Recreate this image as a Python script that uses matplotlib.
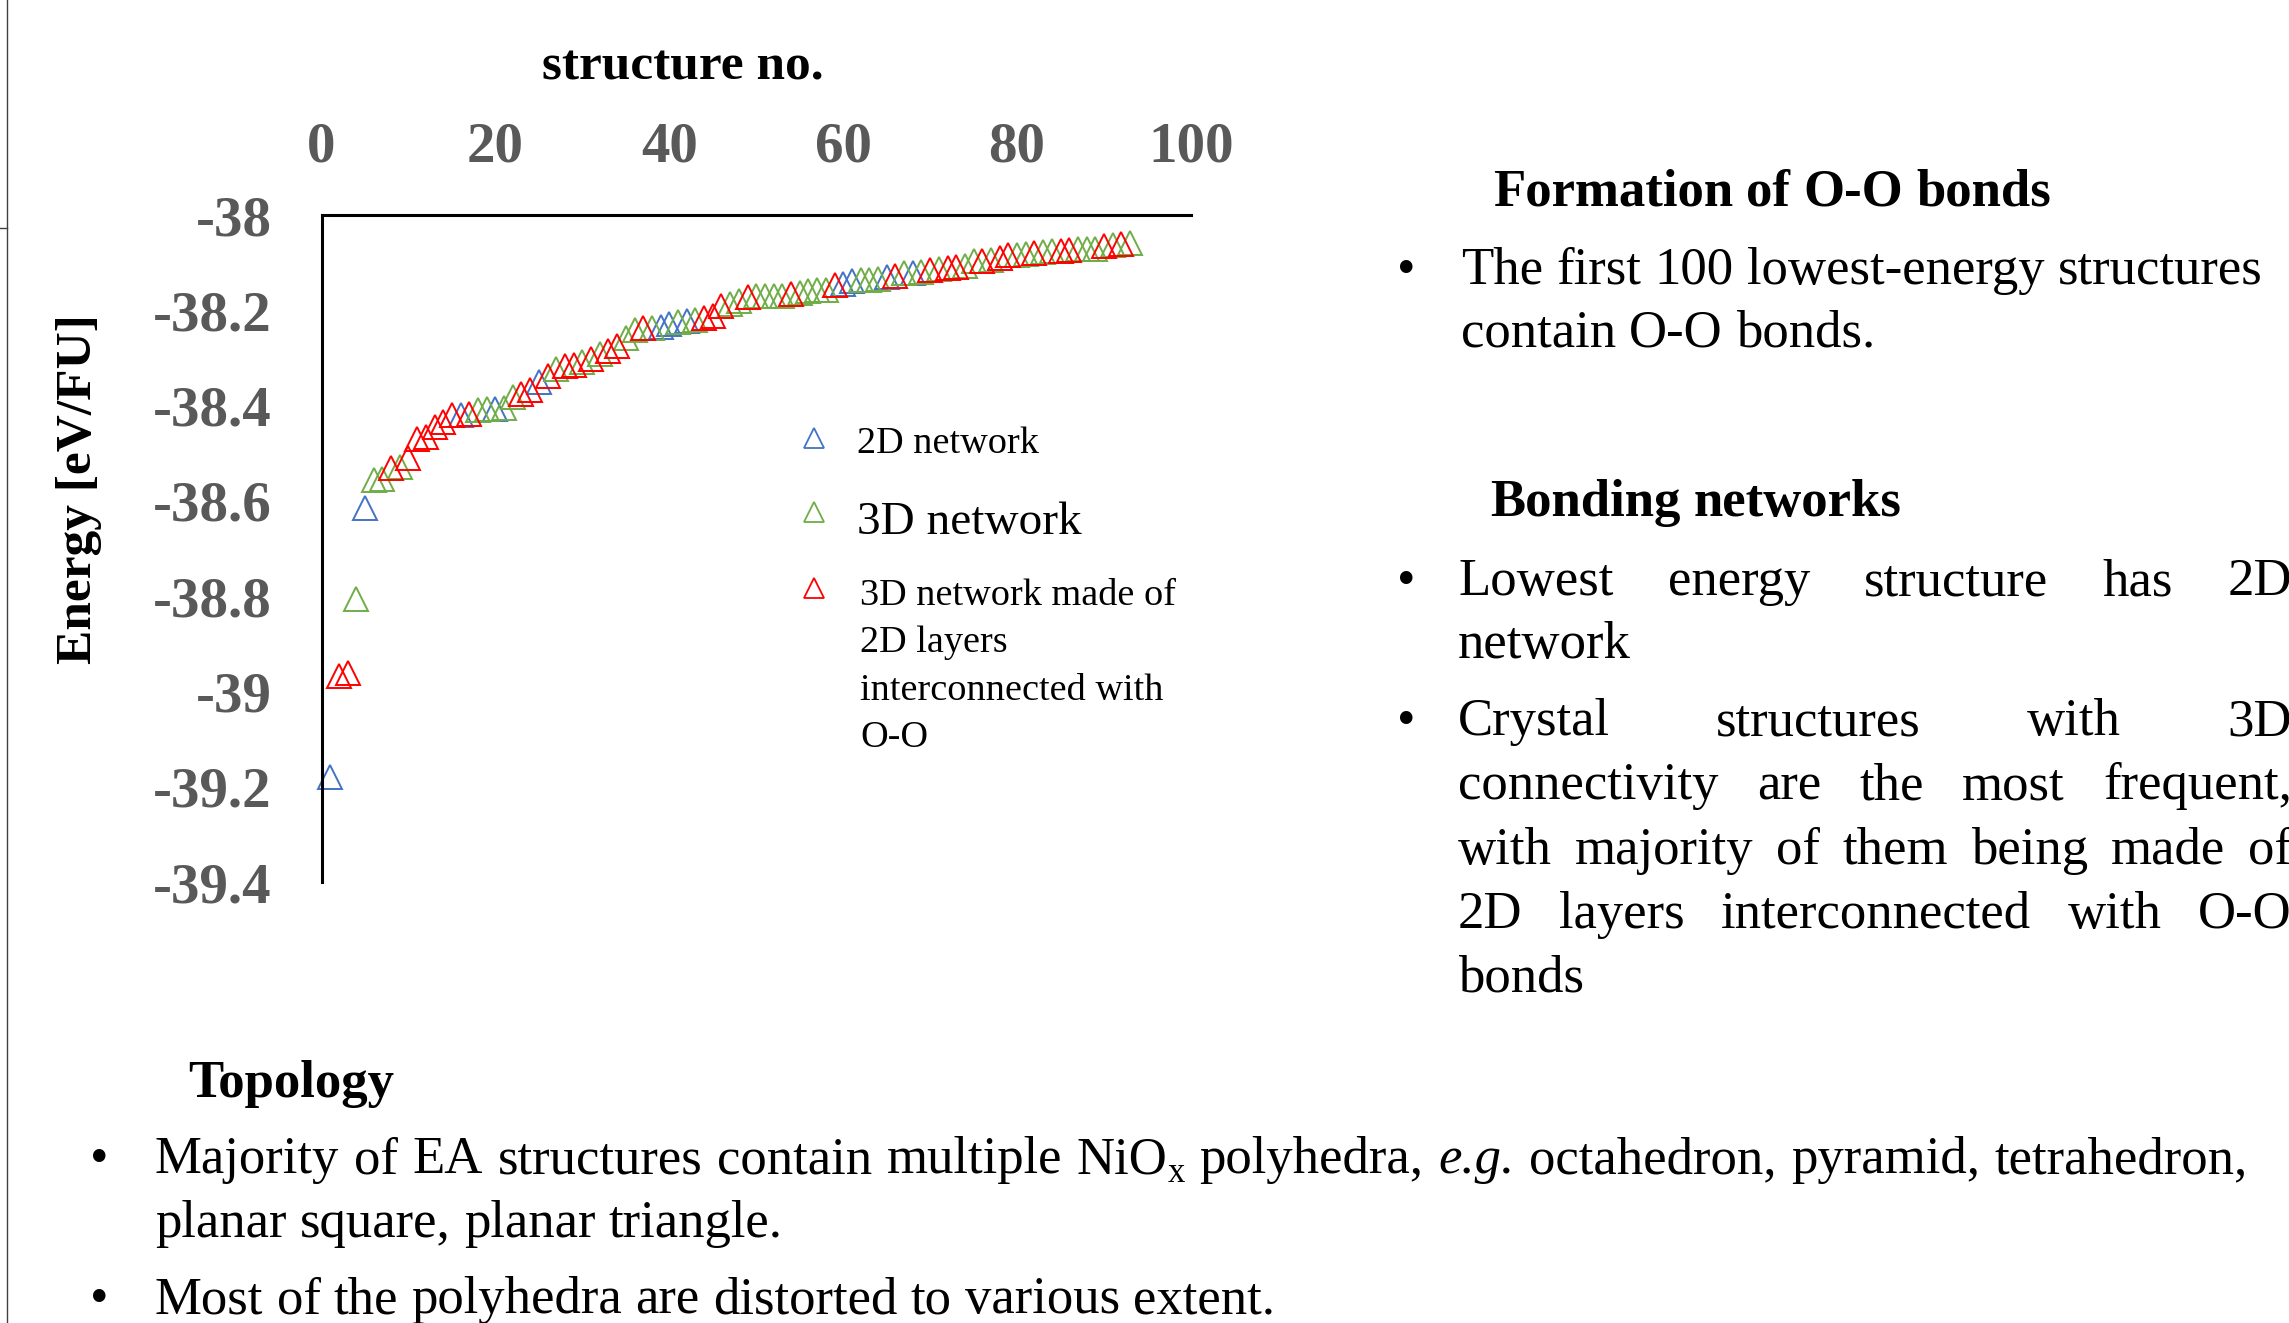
import matplotlib
matplotlib.use('Agg')
import matplotlib.pyplot as plt
from matplotlib.lines import Line2D
from matplotlib.ticker import FuncFormatter, MultipleLocator

# structure number and energy [eV/FU] per network type
net2d_no = [1, 5, 16, 20, 25, 39, 40, 42, 60, 61, 65, 68]
net2d_e = [-39.179, -38.615, -38.420, -38.407, -38.351, -38.236, -38.229, -38.222,
           -38.144, -38.138, -38.130, -38.121]

net3d_no = [4, 6, 7, 9, 18, 19, 21, 22, 27, 30, 32, 35, 36, 38, 41, 43, 47, 48, 50, 51,
            52, 53, 55, 56, 57, 58, 62, 63, 64, 67, 69, 71, 74, 75, 77, 80, 81, 83, 84,
            87, 88, 89, 91, 93]
net3d_e = [-38.805, -38.557, -38.554, -38.529, -38.410, -38.408, -38.405, -38.381,
           -38.324, -38.308, -38.292, -38.259, -38.241, -38.237, -38.225, -38.220,
           -38.187, -38.180, -38.171, -38.171, -38.170, -38.169, -38.163, -38.159,
           -38.158, -38.157, -38.137, -38.136, -38.134, -38.122, -38.120, -38.113,
           -38.108, -38.097, -38.095, -38.083, -38.081, -38.078, -38.076, -38.072,
           -38.072, -38.071, -38.064, -38.059]

layered_no = [2, 3, 8, 10, 11, 12, 13, 14, 15, 17, 23, 24, 26, 28, 29, 31, 33, 34, 37,
              44, 45, 46, 49, 54, 59, 66, 70, 72, 73, 76, 78, 79, 82, 85, 86, 90, 92]
layered_e = [-38.968, -38.961, -38.531, -38.509, -38.470, -38.465, -38.446, -38.435,
             -38.420, -38.417, -38.376, -38.367, -38.337, -38.316, -38.315, -38.302,
             -38.285, -38.274, -38.238, -38.217, -38.213, -38.190, -38.173, -38.165,
             -38.146, -38.129, -38.116, -38.111, -38.109, -38.096, -38.090, -38.084,
             -38.079, -38.075, -38.073, -38.065, -38.061]

series_labels = [['2D network'], ['3D network'],
                 ['3D network made of', '2D layers', 'interconnected with', 'O-O']]
series_colors = ['#4472C4', '#70AD47', '#FF0000']

W, H = 2289, 1323
plt.rcParams['font.family'] = ['Liberation Serif', 'DejaVu Serif']
plt.rcParams['axes.unicode_minus'] = False

fig = plt.figure(figsize=(W / 100, H / 100), dpi=100)


def fx(px):
    return px / W


def fy(py):
    return 1 - py / H


ax = fig.add_axes([fx(321.5), fy(882), (1191 - 321.5) / W, (882 - 215) / H])

for xs, es, c in zip([net2d_no, net3d_no, layered_no], [net2d_e, net3d_e, layered_e], series_colors):
    ax.plot(xs, es, ls='none', marker='^', ms=17, mfc='none', mec=c, mew=1.4, clip_on=False)

ax.set_xlim(0, 100)
ax.set_ylim(-39.4, -38)
ax.xaxis.set_major_locator(MultipleLocator(20))
ax.yaxis.set_major_locator(MultipleLocator(0.2))
ax.yaxis.set_major_formatter(FuncFormatter(lambda v, p: f'{round(v, 1):g}'))
ax.xaxis.tick_top()
for s in ['right', 'bottom']:
    ax.spines[s].set_visible(False)
for s in ['top', 'left']:
    ax.spines[s].set_linewidth(2.2)
ax.tick_params(axis='x', length=0, pad=30, labelsize=41, labelcolor='#595959')
ax.tick_params(axis='y', length=0, pad=36, labelsize=41, labelcolor='#595959')
for lab in ax.get_xticklabels() + ax.get_yticklabels():
    lab.set_fontweight('bold')

ax.xaxis.set_label_position('top')
ax.set_xlabel('structure no.', fontsize=37, fontweight='bold', va='center')
ax.xaxis.set_label_coords((683 - 321.5) / 869.5, (882 - 68) / 667)
ax.set_ylabel('Energy [eV/FU]', fontsize=37, fontweight='bold', va='center', ha='center')
ax.yaxis.set_label_coords((79 - 321.5) / 869.5, (882 - 489) / 667)

# legend, drawn by hand
leg_marker_y = [438, 512, 588]
leg_base = [453, 534, 605]
leg_size = [27.5, 34, 27.5]
for c, my, by, fs, lines in zip(series_colors, leg_marker_y, leg_base, leg_size, series_labels):
    fig.add_artist(Line2D([fx(814)], [fy(my)], ls='none', marker='^', ms=14, mfc='none',
                          mec=c, mew=1.3))
    for i, line in enumerate(lines):
        fig.text(fx(860 if len(lines) > 1 else 857), fy(by + i * 47.3), line, fontsize=fs,
                 va='baseline', ha='left')

# slide frame remnants
fig.add_artist(Line2D([fx(7), fx(7)], [0, 1], color='#404040', lw=1))
fig.add_artist(Line2D([0, fx(7)], [fy(228), fy(228)], color='#404040', lw=1))

renderer = fig.canvas.get_renderer()
BODY = 38


def put_line(x0, base, words, x1=None, size=BODY, weight='normal'):
    items = []
    total = 0
    for word in words:
        if isinstance(word, str):
            word = [(word, {})]
        parts = []
        for s, kw in word:
            t = fig.text(0, 0, s, fontsize=kw.get('size', size), fontweight=weight,
                         fontstyle=kw.get('style', 'normal'), va='baseline', ha='left')
            w = t.get_window_extent(renderer).width
            parts.append((t, w, kw.get('dy', 0)))
            total += w
        items.append(parts)
    if x1 is not None and len(items) > 1:
        gap = (x1 - x0 - total) / (len(items) - 1)
    else:
        gap = 0.25 * size * 100 / 72
    x = x0
    for parts in items:
        for t, w, dy in parts:
            t.set_position((fx(x), fy(base + dy)))
            x += w
        x += gap


def bullet(x, base):
    fig.text(fx(x), fy(base), '\u2022', fontsize=BODY, va='baseline', ha='left')


R = 2292
put_line(1493, 205, 'Formation of O-O bonds'.split(), weight='bold')
bullet(1397, 284)
put_line(1461, 284, 'The first 100 lowest-energy structures'.split())
put_line(1461, 347, 'contain O-O bonds.'.split())

put_line(1490, 516, 'Bonding networks'.split(), weight='bold')
bullet(1397, 595)
put_line(1458, 595, 'Lowest energy structure has 2D'.split(), x1=R)
put_line(1458, 658, ['network'])
bullet(1397, 735)
put_line(1458, 735, 'Crystal structures with 3D'.split(), x1=R)
put_line(1458, 799, 'connectivity are the most frequent,'.split(), x1=R)
put_line(1458, 864, 'with majority of them being made of'.split(), x1=R)
put_line(1458, 928, '2D layers interconnected with O-O'.split(), x1=R)
put_line(1458, 991, ['bonds'])

put_line(188, 1097, ['Topology'], weight='bold')
bullet(90, 1173)
line1 = 'Majority of EA structures contain multiple'.split() + \
    [[('NiO', {}), ('x', {'size': 25, 'dy': 9})], 'polyhedra,', [('e.g.', {'style': 'italic'})]] + \
    'octahedron, pyramid, tetrahedron,'.split()
put_line(155, 1173, line1, x1=2248)
put_line(155, 1237, 'planar square, planar triangle.'.split())
bullet(90, 1313)
put_line(155, 1313, 'Most of the polyhedra are distorted to various extent.'.split())

fig.savefig('out.png', dpi=100)
